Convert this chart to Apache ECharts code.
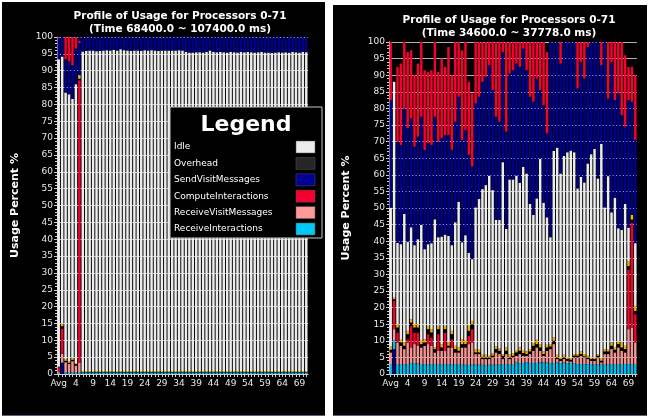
<!DOCTYPE html>
<html>
<head>
<meta charset="utf-8">
<script src="https://cdn.jsdelivr.net/npm/echarts@6/dist/echarts.min.js"></script>
<style>
  html, body { margin: 0; padding: 0; background: #ffffff; width: 649px; height: 420px; overflow: hidden; }
  .panel { position: absolute; background: #000000; border-bottom: 1px solid #56627a; }
  #leftPanel { left: 2px; top: 2px; width: 323px; height: 413px; }
  #rightPanel { left: 333px; top: 5px; width: 314px; height: 410px; }
</style>
</head>
<body>
<div id="leftPanel" class="panel"></div>
<div id="rightPanel" class="panel"></div>
<script>
// Processor categories: the average bar followed by processors 0-71
const categories = ['Avg',
  '0','1','2','3','4','5','6','7','8','9','10','11','12','13','14','15','16','17','18','19',
  '20','21','22','23','24','25','26','27','28','29','30','31','32','33','34','35','36','37','38','39',
  '40','41','42','43','44','45','46','47','48','49','50','51','52','53','54','55','56','57','58','59',
  '60','61','62','63','64','65','66','67','68','69','70','71'];

const yTicks = { min: 0, max: 100, step: 5 };

// Legend entries (name, colour)
const legendNames = ['Idle', 'Overhead', 'SendVisitMessages', 'ComputeInteractions', 'ReceiveVisitMessages', 'ReceiveInteractions'];
const legendColors = ['#ececec', '#262626', '#000096', '#f5002f', '#ff9a9a', '#00c8f8'];

// Cumulative usage levels (percent) per category, bottom to top of each column.
// ---- Time 68400.0 ~ 107400.0 ms ----
const leftSvmLow = [0, 3.3, 0, 0, 0, 0, 0,
  0,0,0,0,0,0,0,0,0,0, 0,0,0,0,0,0,0,0,0,0, 0,0,0,0,0,0,0,0,0,0, 0,0,0,0,0,0,0,0,0,0,
  0,0,0,0,0,0,0,0,0,0, 0,0,0,0,0,0,0,0,0,0, 0,0,0,0,0,0];
const leftRi = [0.4, 3.4, 0.4, 0.4, 0.4, 0.4, 0.4,
  0.5,0.5,0.5,0.5,0.5,0.5,0.5,0.5,0.5,0.5, 0.5,0.5,0.5,0.5,0.5,0.5,0.5,0.5,0.5,0.5,
  0.5,0.5,0.5,0.5,0.5,0.5,0.5,0.5,0.5,0.5, 0.5,0.5,0.5,0.5,0.5,0.5,0.5,0.5,0.5,0.5,
  0.5,0.5,0.5,0.5,0.5,0.5,0.5,0.5,0.5,0.5, 0.5,0.5,0.5,0.5,0.5,0.5,0.5,0.5,0.5,0.5, 0.5,0.5,0.5,0.5,0.5,0.5];
const leftRvm = [0.6, 6, 3.5, 3, 3.8, 2.5, 3.3,
  0.5,0.5,0.5,0.5,0.5,0.5,0.5,0.5,0.5,0.5, 0.5,0.5,0.5,0.5,0.5,0.5,0.5,0.5,0.5,0.5,
  0.5,0.5,0.5,0.5,0.5,0.5,0.5,0.5,0.5,0.5, 0.5,0.5,0.5,0.5,0.5,0.5,0.5,0.5,0.5,0.5,
  0.5,0.5,0.5,0.5,0.5,0.5,0.5,0.5,0.5,0.5, 0.5,0.5,0.5,0.5,0.5,0.5,0.5,0.5,0.5,0.5, 0.5,0.5,0.5,0.5,0.5,0.5];
const leftCiLow = [1.9, 13.5, 3.5, 3, 3.8, 2.5, 87.2,
  0.5,0.5,0.5,0.5,0.5,0.5,0.5,0.5,0.5,0.5, 0.5,0.5,0.5,0.5,0.5,0.5,0.5,0.5,0.5,0.5,
  0.5,0.5,0.5,0.5,0.5,0.5,0.5,0.5,0.5,0.5, 0.5,0.5,0.5,0.5,0.5,0.5,0.5,0.5,0.5,0.5,
  0.5,0.5,0.5,0.5,0.5,0.5,0.5,0.5,0.5,0.5, 0.5,0.5,0.5,0.5,0.5,0.5,0.5,0.5,0.5,0.5, 0.5,0.5,0.5,0.5,0.5,0.5];
const leftOverhead = [2.0, 14.2, 3.9, 3.3, 4.2, 2.9, 87.6,
  0.6,0.6,0.6,0.6,0.6,0.6,0.6,0.6,0.6,0.6, 0.6,0.6,0.6,0.6,0.6,0.6,0.6,0.6,0.6,0.6,
  0.6,0.6,0.6,0.6,0.6,0.6,0.6,0.6,0.6,0.6, 0.6,0.6,0.6,0.6,0.6,0.6,0.6,0.6,0.6,0.6,
  0.6,0.6,0.6,0.6,0.6,0.6,0.6,0.6,0.6,0.6, 0.6,0.6,0.6,0.6,0.6,0.6,0.6,0.6,0.6,0.6, 0.6,0.6,0.6,0.6,0.6,0.6];
const leftOther = [2.2, 15, 4.4, 3.8, 4.8, 3.3, 88.7,
  0.9,0.9,0.9,0.9,0.9,0.9,0.9,0.9,0.9,0.9, 0.9,0.9,0.9,0.9,0.9,0.9,0.9,0.9,0.9,0.9,
  0.9,0.9,0.9,0.9,0.9,0.9,0.9,0.9,0.9,0.9, 0.9,0.9,0.9,0.9,0.9,0.9,0.9,0.9,0.9,0.9,
  0.9,0.9,0.9,0.9,0.9,0.9,0.9,0.9,0.9,0.9, 0.9,0.9,0.9,0.9,0.9,0.9,0.9,0.9,0.9,0.9, 0.9,0.9,0.9,0.9,0.9,0.9];
const leftIdle = [93.4, 94.2, 83.5, 83, 81.6, 86, 88.7,
  95.7,95.9,96,96,95.8,95.9,96,96.1,96,96.2, 96,96.4,96.1,96,95.9,96,96,95.9,96.1,96,
  96.1,96,95.9,96,96,96,96,96,96.1,96, 95.6,95.4,95.4,95.5,95.5,95.4,95.6,96,95.6,95.5,
  95.6,95.5,95.4,95.6,95.5,95.4,95.6,95.5,95.6,95.5, 95.4,95.5,95.6,95.4,95.4,95.3,95.4,95.5,95.4,95.5,
  95.4,95.6,95.5,95.4,95.6,95.5];
const leftSvm = [99.6, 100, 93.4, 92.8, 91.6, 96.6, 98.2,
  100,100,100,100,100,100,100,100,100,100, 100,100,100,100,100,100,100,100,100,100,
  100,100,100,100,100,100,100,100,100,100, 100,100,100,100,100,100,100,100,100,100,
  100,100,100,100,100,100,100,100,100,100, 100,100,100,100,100,100,100,100,100,100, 100,100,100,100,100,100];
const leftCiHigh = [100, 100, 100, 100, 100, 100, 98.9,
  100,100,100,100,100,100,100,100,100,100, 100,100,100,100,100,100,100,100,100,100,
  100,100,100,100,100,100,100,100,100,100, 100,100,100,100,100,100,100,100,100,100,
  100,100,100,100,100,100,100,100,100,100, 100,100,100,100,100,100,100,100,100,100, 100,100,100,100,100,100];
const leftSvmTail = [0, 0, 0, 0, 0, 0, 100,
  0,0,0,0,0,0,0,0,0,0, 0,0,0,0,0,0,0,0,0,0, 0,0,0,0,0,0,0,0,0,0, 0,0,0,0,0,0,0,0,0,0,
  0,0,0,0,0,0,0,0,0,0, 0,0,0,0,0,0,0,0,0,0, 0,0,0,0,0,0];

// ---- Time 34600.0 ~ 37778.0 ms ----
const rightSvmLow = [0, 7.5,
  0,0,0,0,0,0,0,0,0,0, 0,0,0,0,0,0,0,0,0,0, 0,0,0,0,0,0,0,0,0,0, 0,0,0,0,0,0,0,0,0,0,
  0,0,0,0,0,0,0,0,0,0, 0,0,0,0,0,0,0,0,0,0, 0,0,0,0,0,0,0,0,0,0, 0];
const rightRi = [3, 10,
  2.8,3,2.8,3,3.3,3.3,3.2,2.8,3,2.8, 3,2.8,3,2.8,2.8,3,2.8,3,2.8,2.8,
  2.8,2.7,3,2.8,2.8,2.8,2.7,2.8,2.8,2.8, 2.8,3,3,3,2.8,3.5,3.3,3.3,3.5,3.3,
  3.3,3.3,3.5,3.5,3.5,3.3,3.3,3.5,3.3,3.5, 3.3,3.3,3.3,3,3,3,3,3,2.8,3,
  2.8,2.8,3,2.8,2.8,3,3,3,3,3, 2.8];
const rightRvm = [6.5, 13.5,
  9.5,8.5,7.5,9.5,8,9,8.5,8,8.5,9, 8.5,6.5,7,7,7,8,8,6.5,6.5,8,
  8,9,9.5,6,6,4.5,4.5,4.5,5,6.5, 6,4.5,6,4.5,5,5.5,6,5.5,5.5,6,
  7,8,7,5.5,7,7.5,9,4.5,4,4.5, 4,3.8,5,5,5.5,5,4.5,4,4,5,
  3.5,6,6,7.5,6.5,8,7,6.5,13.5,14, 9.5];
const rightCiLow = [6.5, 22,
  12.5,8.5,7.5,10.5,14.5,12.5,12.5,8,8.5,12, 11,6.5,12,7,12.5,8,10.5,6.5,6.5,8,
  8,11.5,13.5,6,6,4.5,4.5,4.5,5,6.5, 6,4.5,6,4.5,5,5.5,6,5.5,5.5,6,
  7,8,7,5.5,7,7.5,9,4.5,4,4.5, 4,3.8,5,5,5.5,5,4.5,4,4,5,
  3.5,6,6,7.5,6.5,8,7,6.5,31.5,45.5, 18];
const rightOverhead = [7.3, 22.5,
  14,9.5,8.5,12,15.5,14,14,9,9.5,13.5, 12.5,7.5,13.5,8,13.5,8.5,12,7.5,7,9,
  9,13,15,6.5,6.5,5,5,5,5.5,7.5, 7,5.5,7,5,5.5,6.5,7,6.3,6,6.8,
  8.5,9,8,6,8,8.3,10,5,4.5,5, 4.5,4.3,5.5,5.5,6,5.3,5,4.5,4.5,5.5,
  4,6.8,6.8,8.5,7.3,9,8,7.5,32.5,46.5, 19];
const rightOther = [8.3, 23,
  15,10.3,9.5,13,16.5,15,15,10,10.5,14.5, 13.5,8,14.5,9,14.5,9.5,13,8.5,8,10.5,
  10,14.5,16,7.5,7.3,5.8,5.8,5.5,6.2,8.3, 7.7,6,8,6,6.2,7,8,7,6.8,7.5,
  9.3,10.3,9,6.8,8.8,9,11,5.8,5,5.8, 5,4.8,6,6,6.8,6,5.5,5,5,6,
  4.8,7.5,7.3,9.5,8,9.8,9.5,8.5,34,48, 20.5];
const rightIdle = [50.1, 88,
  39.5,39.1,48.2,39.8,44.2,38.8,40.6,44.9,37.6,39.1, 39.4,46.6,41.2,41.4,42,41.6,38.8,45.7,51.9,39.7,
  41.8,36.5,34.6,50.2,52.7,55.7,56.9,59.7,55.4,46.4, 46.4,63.8,43.7,58.6,58.6,59.7,57.6,62.4,60.4,51.2,
  47.9,52.9,64.8,51.6,47.2,41.2,67.2,68.2,60.4,65.7, 66.8,67.3,66.8,55.9,59.4,57.7,63.4,66.2,67.8,58.9,
  69.3,50.2,59.6,48.7,53.1,43.9,43.4,51.2,44.1,48, 39.4];
const rightSvm = [82.5, 88,
  70,69,80,74,77,68.5,71.5,77.5,67.5,69.5, 69,77.5,70,71,72,72,67.5,76,83.5,70.5,
  73.5,66,62.5,81.5,83.5,88,89.5,93,85.5,77.5, 76,97,73,90.5,91.5,93.5,92.5,98,91.5,83.5,
  82,89,85.5,81,72.5,100,100,100,93.5,100, 100,100,100,86,94,89,98.5,100,100,100,
  93,100,83,94,82.5,84.5,78,74.5,82.5,82, 70.5];
const rightCiHigh = [100, 88,
  92.5,93.5,100,97,97.5,90,93.5,100,91.5,91, 91.5,100,91,95,92.5,98.5,90,100,100,97.5,
  100,88,84.5,100,100,100,100,100,100,100, 100,100,100,100,100,100,100,100,100,100,
  100,100,100,100,97,100,100,100,100,100, 100,100,100,100,100,100,100,100,100,100,
  100,100,100,100,100,100,100,96,92.5,92.5, 90];

const COLORS = {
  idle: '#ececec', overhead: '#000000', svm: '#000090', ci: '#f5002f',
  rvm: '#f59494', ri: '#00c0f0', other: '#f2b400'
};

// Stack order from the axis upwards; each segment is the gap between successive levels.
const LAYERS = [
  ['svmLow', COLORS.svm], ['ri', COLORS.ri], ['rvm', COLORS.rvm], ['ciLow', COLORS.ci],
  ['overhead', COLORS.overhead], ['other', COLORS.other], ['idle', COLORS.idle],
  ['svm', COLORS.svm], ['ciHigh', COLORS.ci], ['svmTail', COLORS.svm]
];

function buildSeries(d) {
  const used = LAYERS.filter(l => d[l[0]]);
  return used.map(([key, color], k) => {
    const tops = d[key];
    const below = k > 0 ? d[used[k - 1][0]] : null;
    const seg = tops.map((t, i) => {
      const base = below ? below[i] : 0;
      return Math.max(0, +(t - base).toFixed(2));
    });
    return {
      type: 'bar', name: key, stack: 'usage', data: seg,
      barCategoryGap: '28%',
      itemStyle: { color: color }, silent: true
    };
  });
}

const FONT = 'DejaVu Sans';

function buildOption(d, grid, titleLines, titleX, titleY, withLegend) {
  const graphic = [{
    type: 'text', x: titleX, y: titleY, z: 50,
    style: {
      text: titleLines.join('\n'), fill: '#ffffff', font: 'bold 10.5px "DejaVu Sans"',
      textAlign: 'center', lineHeight: 13
    }
  }];
  if (withLegend) {
    const bx = 168, by = 105, bw = 152, bh = 131;
    graphic.push({ type: 'rect', shape: { x: bx, y: by, width: bw, height: bh }, z: 100,
      style: { fill: '#000000', stroke: '#c8c8c8', lineWidth: 1 } });
    graphic.push({ type: 'text', x: bx + 76, y: by + 18, z: 101,
      style: { text: 'Legend', fill: '#ffffff', font: 'bold 22px "DejaVu Sans"',
        textAlign: 'center', textVerticalAlign: 'middle' } });
    legendNames.forEach((name, i) => {
      const cy = by + 40 + i * 16.4;
      graphic.push({ type: 'text', x: bx + 4, y: cy, z: 101,
        style: { text: name, fill: '#ffffff', font: '9px "DejaVu Sans"', textVerticalAlign: 'middle' } });
      graphic.push({ type: 'rect', shape: { x: bx + 126, y: cy - 6, width: 19, height: 12 }, z: 101,
        style: { fill: legendColors[i], stroke: '#555555', lineWidth: 0.5 } });
    });
  }
  return {
    animation: false,
    backgroundColor: '#000000',
    grid: grid,
    graphic: graphic,
    xAxis: {
      type: 'category', data: categories,
      axisLine: { show: true, lineStyle: { color: '#cfcfcf', width: 1 } },
      axisTick: { show: true, interval: 0, length: 3, alignWithLabel: true, lineStyle: { color: '#cfcfcf' } },
      axisLabel: { interval: 4, color: '#e8e8e8', fontFamily: FONT, fontSize: 9, margin: 5 }
    },
    yAxis: {
      type: 'value', min: yTicks.min, max: yTicks.max, interval: yTicks.step,
      name: 'Usage Percent %', nameLocation: 'middle', nameGap: grid.nameGap,
      nameTextStyle: { color: '#ffffff', fontFamily: FONT, fontSize: 11, fontWeight: 'bold' },
      axisLine: { show: true, lineStyle: { color: '#cfcfcf' } },
      axisTick: { show: true, length: 3, lineStyle: { color: '#cfcfcf' } },
      minorTick: { show: true, splitNumber: 5, length: 2, lineStyle: { color: '#cfcfcf' } },
      axisLabel: { color: '#e8e8e8', fontFamily: FONT, fontSize: 9, margin: 4 },
      splitLine: { show: true, lineStyle: { color: '#b0b0b0', width: 1 } }
    },
    series: buildSeries(d)
  };
}

const leftData = { svmTail: leftSvmTail, ciHigh: leftCiHigh, svm: leftSvm, idle: leftIdle, other: leftOther,
  overhead: leftOverhead, ciLow: leftCiLow, rvm: leftRvm, ri: leftRi, svmLow: leftSvmLow };
const rightData = { ciHigh: rightCiHigh, svm: rightSvm, idle: rightIdle, other: rightOther,
  overhead: rightOverhead, ciLow: rightCiLow, rvm: rightRvm, ri: rightRi, svmLow: rightSvmLow };

const leftChart = echarts.init(document.getElementById('leftPanel'));
leftChart.setOption(buildOption(leftData,
  { left: 50, top: 35, width: 256, height: 337, nameGap: 36 },
  ['Profile of Usage for Processors 0-71', '(Time 68400.0 ~ 107400.0 ms)'], 178, 8, true));

const rightChart = echarts.init(document.getElementById('rightPanel'));
rightChart.setOption(buildOption(rightData,
  { left: 48, top: 37, width: 256, height: 332, nameGap: 37 },
  ['Profile of Usage for Processors 0-71', '(Time 34600.0 ~ 37778.0 ms)'], 176, 9, false));
</script>
</body>
</html>
